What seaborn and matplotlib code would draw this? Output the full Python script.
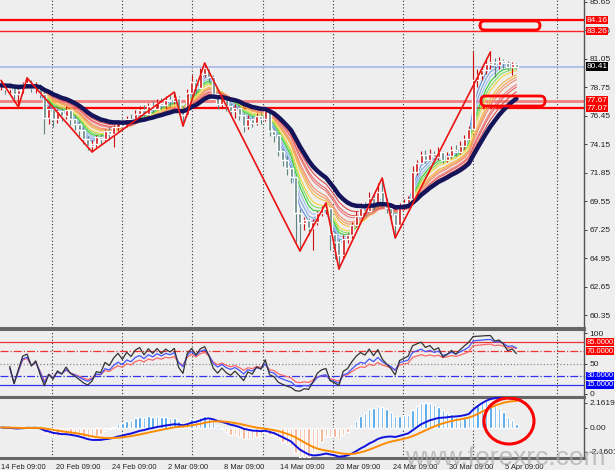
import numpy as np
import pandas as pd
import seaborn as sns
import matplotlib.pyplot as plt
from matplotlib.patches import FancyBboxPatch, Ellipse
from matplotlib.transforms import blended_transform_factory

# price bars (one value per bar)
closes = [78.9, 78.6, 78.8, 78.2, 78.5, 79.0, 79.1, 78.7, 78.9, 78.2,
          76.3, 77.0, 76.2, 76.8, 76.4, 76.9, 76.2, 75.8, 75.3, 74.6,
          74.0, 74.2, 74.7, 74.6, 75.2, 75.0, 75.5, 75.9, 75.6, 76.2,
          76.0, 76.6, 76.9, 76.6, 77.2, 77.0, 77.5, 77.3, 77.7, 77.6,
          77.9, 77.0, 76.5, 78.3, 79.2, 78.7, 79.8, 80.3, 79.6, 78.2,
          77.4, 77.9, 77.2, 76.8, 77.1, 76.5, 75.6, 76.2, 75.9, 76.4,
          76.2, 76.9, 75.2, 74.9, 73.6, 72.9, 72.2, 71.5, 68.6, 67.8,
          68.0, 67.4, 67.9, 68.6, 68.9, 69.0, 66.9, 66.3, 65.2, 66.5,
          66.8, 67.6, 68.4, 69.0, 68.8, 69.8, 69.3, 70.3, 69.5, 69.0,
          68.5, 67.6, 69.1, 69.4, 69.7, 71.9, 72.6, 73.3, 72.9, 73.4,
          73.1, 73.5, 72.9, 73.2, 73.7, 73.5, 74.0, 74.6, 75.4, 79.3,
          79.7, 80.1, 80.6, 80.8, 80.5, 80.9, 80.7, 80.4, 80.6, 80.41]
highs = [79.3, 79.1, 79.1, 78.9, 78.7, 79.2, 79.5, 79.3, 79.2, 79.0,
         78.4, 77.3, 77.2, 77.0, 77.1, 77.2, 77.0, 76.5, 76.0, 75.5,
         74.8, 74.5, 74.9, 75.0, 75.4, 75.5, 75.7, 76.1, 76.2, 76.4,
         76.6, 76.9, 77.2, 77.3, 77.5, 77.6, 77.8, 77.9, 78.0, 78.1,
         78.36, 78.0, 77.2, 78.6, 79.7, 79.4, 80.3, 80.7, 80.4, 79.7,
         78.4, 78.2, 78.0, 77.5, 77.4, 77.3, 76.7, 76.5, 76.4, 76.7,
         76.7, 77.1, 76.9, 75.4, 75.0, 73.8, 73.2, 72.3, 71.6, 68.9,
         68.3, 68.2, 68.1, 68.8, 69.2, 69.41, 69.0, 67.1, 66.5, 66.8,
         67.0, 67.9, 68.8, 69.4, 69.5, 70.3, 70.1, 71.0, 71.43, 69.8,
         69.2, 68.7, 69.4, 69.7, 70.0, 72.4, 72.9, 73.6, 73.7, 73.8,
         73.6, 73.9, 73.6, 73.5, 74.0, 74.1, 74.4, 74.9, 75.6, 81.7,
         80.2, 80.4, 81.0, 81.59, 81.1, 81.2, 81.0, 80.9, 80.8, 80.7]
lows = [78.5, 78.2, 78.3, 77.8, 77.15, 78.3, 78.7, 78.4, 78.3, 77.9,
        75.0, 75.8, 75.5, 75.9, 76.0, 76.2, 75.7, 75.3, 74.8, 74.2,
        73.7, 73.53, 73.9, 74.1, 74.4, 74.5, 73.9, 75.2, 75.3, 75.5,
        75.7, 75.9, 76.3, 76.2, 76.5, 76.7, 76.9, 77.0, 77.1, 77.2,
        77.4, 76.6, 75.62, 76.4, 78.1, 78.3, 78.7, 79.6, 79.2, 77.9,
        77.0, 77.1, 76.8, 76.4, 76.3, 76.1, 75.1, 75.4, 75.5, 75.7,
        75.8, 76.0, 74.8, 74.3, 73.2, 72.4, 71.7, 71.0, 66.3, 65.54,
        67.2, 66.8, 65.6, 67.6, 68.4, 68.5, 65.6, 64.9, 64.09, 65.0,
        66.2, 66.6, 67.5, 68.3, 68.4, 68.9, 69.0, 69.2, 69.1, 68.6,
        67.8, 66.59, 67.5, 68.9, 69.2, 69.7, 71.7, 72.6, 72.6, 72.8,
        72.7, 72.9, 72.6, 72.7, 73.0, 73.2, 73.4, 73.8, 74.5, 75.3,
        78.8, 79.3, 79.8, 80.2, 79.6, 80.2, 80.3, 80.1, 79.7, 80.2]

# zigzag swing bars, alternating high / low
zz_bars = [0, 4, 6, 21, 40, 42, 47, 69, 75, 78, 88, 91, 113]
zz_kind = ['H', 'L', 'H', 'L', 'H', 'L', 'H', 'L', 'H', 'L', 'H', 'L', 'H']

# horizontal levels
red_levels = [84.16, 83.26, 77.67, 77.07]
last_price = 80.41
rsi_levels = [85, 70, 30, 15]

tick_labels = ['14 Feb 09:00', '20 Feb 09:00', '24 Feb 09:00', '2 Mar 09:00', '8 Mar 09:00',
               '14 Mar 09:00', '20 Mar 09:00', '24 Mar 09:00', '30 Mar 09:00', '5 Apr 09:00']
tick_pos = [0, 12.7, 25.6, 38.6, 51.5, 64.4, 77.4, 90.5, 103.5, 116.4]
grid_pos = [11.8, 28.0, 44.1, 60.5, 76.7, 92.8, 109.0, 128.4]

ribbon_periods = [3, 4, 5, 6, 7, 8, 10, 11, 12, 14, 15, 17]
ribbon_colors = ['#5b8fd9', '#7aa6e6', '#9cc0f0', '#33cc33', '#7fe05a', '#f2d43c',
                 '#f5b942', '#f5a05a', '#f58c6e', '#f07a7a', '#ea6060', '#e04a4a']
slow_period = 20

df = pd.DataFrame({'close': closes, 'high': highs, 'low': lows})
df['bar'] = np.arange(len(df))
df['open'] = df['close'].shift(1).fillna(df['close'])

# indicators
for p in ribbon_periods + [slow_period]:
    df[f'ema{p}'] = df['close'].ewm(span=p, adjust=False).mean()

diff = df['close'].diff()
for n in [5, 9, 14]:
    up = diff.clip(lower=0).ewm(alpha=1 / n, adjust=True).mean()
    dn = (-diff.clip(upper=0)).ewm(alpha=1 / n, adjust=True).mean()
    df[f'rsi{n}'] = 100 - 100 / (1 + up / dn.replace(0, 1e-9))

df['macd'] = df['close'].ewm(span=12, adjust=False).mean() - df['close'].ewm(span=26, adjust=False).mean()
df['signal'] = df['macd'].ewm(span=9, adjust=False).mean()
df['hist'] = (df['macd'] - df['signal']) * 3

sns.set_style('white')
plt.rcParams['font.family'] = ['Liberation Sans', 'DejaVu Sans']
bg = '#eeeeee'
fs = 6.0
fig = plt.figure(figsize=(6.15, 4.70), dpi=100, facecolor=bg)
W = 584 / 615
ax = fig.add_axes([0, 1 - 328 / 470, W, 328 / 470])
ax_rsi = fig.add_axes([0, 1 - 397 / 470, W, 68 / 470])
ax_macd = fig.add_axes([0, 1 - 458 / 470, W, 61 / 470])

xlim = (-0.25, 134.6)
tr = blended_transform_factory(ax.transAxes, ax.transData)

# --- main panel
for lv, col, lw in zip(red_levels, ['#ff0000', '#ff2020', '#f08080', '#ff0000'], [1.6, 1.0, 2.0, 1.6]):
    ax.axhline(lv, color=col, lw=lw, zorder=2)
ax.axhline(last_price, color='#a8b8ea', lw=1.2, zorder=2)

for p, c in zip(ribbon_periods, ribbon_colors):
    sns.lineplot(x=df['bar'], y=df[f'ema{p}'], ax=ax, color=c, lw=0.8, zorder=3)

up_bar = df['close'] >= df['open']
colors = np.where(up_bar, '#cc1111', '#5f8584')
ax.vlines(df['bar'], df['low'], df['high'], colors=colors, lw=0.8, zorder=4)
body = (df['close'] - df['open']).where((df['close'] - df['open']).abs() > 0.08, 0.08)
ax.bar(df['bar'], body, bottom=df['open'], width=0.7, color=colors, zorder=4)

sns.lineplot(x=df['bar'], y=df[f'ema{slow_period}'], ax=ax, color='#14145a', lw=3.2, zorder=5)

zz_y = [highs[b] if k == 'H' else lows[b] for b, k in zip(zz_bars, zz_kind)]
ax.plot(zz_bars, zz_y, color='#ee1111', lw=1.2, zorder=7)

ax.add_patch(FancyBboxPatch((480 / 584, 1 - 30 / 328), 60 / 584, 9 / 328, transform=ax.transAxes,
                            boxstyle='round,pad=0,rounding_size=0.008', mutation_aspect=584 / 328,
                            fill=False, ec='#ff0000', lw=2, zorder=8))
ax.add_patch(FancyBboxPatch((481 / 584, 1 - 106 / 328), 64 / 584, 10 / 328, transform=ax.transAxes,
                            boxstyle='round,pad=0,rounding_size=0.008', mutation_aspect=584 / 328,
                            fill=False, ec='#ff0000', lw=2, zorder=8))

yt = np.round(np.arange(60.35, 86.0, 2.3), 2)
ax.set_ylim(59.33, 85.78)
ax.set_yticks(yt)
ax.set_yticklabels([f'{v:.2f}' for v in yt])
for lv in red_levels:
    ax.text(1.004, lv, f'{lv:.2f}', transform=tr, color='white', fontsize=fs, va='center', ha='left',
            bbox=dict(fc='#ff0000', ec='none', pad=0.5), zorder=10, clip_on=False)
ax.text(1.004, last_price, f'{last_price:.2f}', transform=tr, color='white', fontsize=fs, va='center',
        ha='left', bbox=dict(fc='#000000', ec='none', pad=0.5), zorder=10, clip_on=False)

# --- RSI panel (skip the first bars, where the averages are still empty)
rsi_df = df.iloc[2:]
for n, c in [(14, '#ff6666'), (9, '#4455ff'), (5, '#333333')]:
    sns.lineplot(x=rsi_df['bar'], y=rsi_df[f'rsi{n}'], ax=ax_rsi, color=c, lw=0.9, zorder=4)
ax_rsi.axhline(85, color='#ee3333', lw=0.9)
ax_rsi.axhline(70, color='#ee3333', lw=0.9, ls='-.')
ax_rsi.axhline(50, color='#888888', lw=0.9, ls=':')
ax_rsi.axhline(30, color='#3333ee', lw=0.9, ls='-.')
ax_rsi.axhline(15, color='#3333ee', lw=0.9)
ax_rsi.set_ylim(-5, 107)
ax_rsi.set_yticks([0, 50, 100])
ax_rsi.set_yticklabels(['0', '50', '100'])
tr_rsi = blended_transform_factory(ax_rsi.transAxes, ax_rsi.transData)
for lv in rsi_levels:
    ax_rsi.text(1.004, lv, f'{lv:.4f}', transform=tr_rsi, color='white', fontsize=5.5, va='center',
                ha='left', bbox=dict(fc='#ff0000' if lv > 50 else '#0000ff', ec='none', pad=0.4),
                zorder=10, clip_on=False)

# --- MACD panel
hcol = np.where(df['hist'] >= 0, '#3a9ae8', '#f5a582')
ax_macd.bar(df['bar'], df['hist'], width=0.55, color=hcol, zorder=3)
sns.lineplot(x=df['bar'], y=df['macd'], ax=ax_macd, color='#1111dd', lw=1.4, zorder=4)
sns.lineplot(x=df['bar'], y=df['signal'], ax=ax_macd, color='#ff8c00', lw=1.4, zorder=5)
ax_macd.set_ylim(-2.69, 2.69)
ax_macd.set_yticks([-2.1601, 0, 2.1619])
ax_macd.set_yticklabels(['-2.1601', '0.00', '2.1619'])
ax_macd.add_patch(Ellipse((509 / 584, 1 - 24 / 61), 50 / 584, 46 / 61, transform=ax_macd.transAxes,
                          fill=False, ec='#ff0000', lw=2.2, zorder=8))

for a in (ax, ax_rsi, ax_macd):
    a.set_facecolor(bg)
    a.set_xlim(*xlim)
    a.set_xlabel('')
    a.set_ylabel('')
    for g in grid_pos:
        a.axvline(g, color='#333333', lw=0.8, ls=(0, (1, 2)), zorder=1)
    a.yaxis.tick_right()
    a.tick_params(axis='y', labelsize=fs, length=2.5, width=0.6, pad=1.5, colors='#222222', direction='out')
    a.spines['left'].set_visible(False)
    a.spines['right'].set_color('#555555')
    a.spines['right'].set_linewidth(1.0)
    for s in ('top', 'bottom'):
        a.spines[s].set_color('#666666')
        a.spines[s].set_linewidth(2.2)
ax.spines['top'].set_visible(False)
ax.tick_params(axis='x', bottom=False, labelbottom=False)
ax_rsi.tick_params(axis='x', bottom=False, labelbottom=False)
ax_macd.set_xticks(tick_pos)
ax_macd.set_xticklabels(tick_labels, ha='left')
ax_macd.tick_params(axis='x', labelsize=5.4, length=3, width=0.6, pad=1, colors='#222222')

fig.text(0.985, 0.0, 'www.forexrc.com', fontsize=19, color='#aaaaaa', alpha=0.7,
         ha='right', va='bottom', zorder=20)

fig.savefig('out.png', dpi=100, facecolor=bg)
